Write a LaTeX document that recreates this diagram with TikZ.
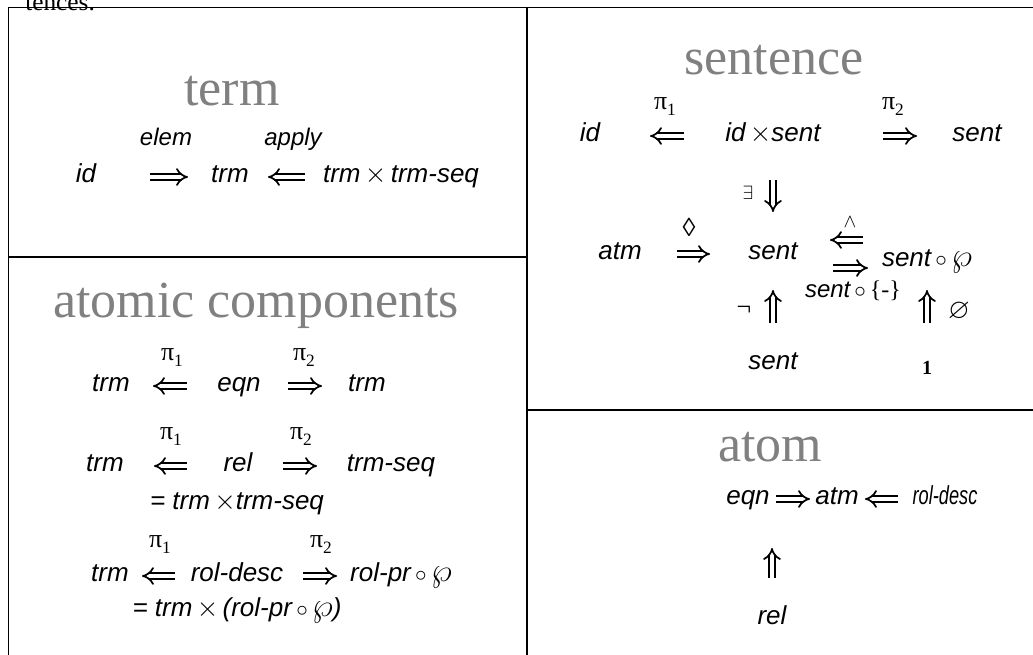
\documentclass[tikz,border=0pt]{standalone}
\usepackage{fontspec}
\usepackage{amssymb}
\setmainfont{Liberation Serif}
\setsansfont{Liberation Sans}
\usetikzlibrary{arrows.meta}

\newcommand{\prj}[1]{π\raisebox{-0.2em}{\fontsize{13}{13}\selectfont #1}}
\newcommand{\cmp}{\,{\fontsize{16}{16}\selectfont$\circ$}\,}
\newcommand{\pow}{{\fontsize{24}{24}\selectfont$\wp$}}

\begin{document}
\begin{tikzpicture}[
        x=0.75pt, y=-0.75pt,
        frame/.style={line width=1.4pt},
        ttl/.style={anchor=base, inner sep=0pt, text=gray, font=\fontsize{39}{39}\selectfont},
        obj/.style={anchor=base, inner sep=0pt, text height=9pt, text depth=0pt, font=\sffamily\itshape\fontsize{19.5}{20}\selectfont},
        lbl/.style={anchor=base, inner sep=0pt, font=\sffamily\itshape\fontsize{18}{18}\selectfont},
        sym/.style={anchor=base, inner sep=0pt, font=\fontsize{19.5}{20}\selectfont},
        imp/.style={double, double distance=3.2pt, line width=1.3pt, -{Implies[scale=1.2]}}
    ]

    \useasboundingbox (0,0) rectangle (1033,655);

    \draw[frame] (1033,7.5) -- (8.5,7.5) -- (8.5,655);
    \draw[frame] (527,7.5) -- (527,655);
    \draw[frame] (8.5,257) -- (527,257);
    \draw[frame] (527,410) -- (1033,410);

    \node[anchor=base west, inner sep=0pt, font=\fontsize{19}{19}\selectfont] (prev) at (25,11) {tences.};

    \node[ttl] (termT) at (232,106) {term};
    \node[lbl] (elem) at (166,146) {elem};
    \node[lbl] (apply) at (293,146) {apply};
    \node[obj] (tid) at (86,183) {id};
    \node[obj] (ttrm) at (230,183) {trm};
    \node[obj] (tprod) at (401,183) {trm\,$\times$\,trm-seq};

    \draw[imp, shorten <=48pt, shorten >=31.5pt] (tid.center) -- (ttrm.center);
    \draw[imp, shorten <=72pt, shorten >=28.5pt] (tprod.center) -- (ttrm.center);

    \node[ttl] (sentT) at (774,75) {sentence};
    \node[sym] (s1) at (665,110) {\prj1};
    \node[sym] (s2) at (893,110) {\prj2};
    \node[obj] (sid) at (590,142) {id};
    \node[obj] (sprod) at (773,142) {id\,$\times$sent};
    \node[obj] (ssent) at (977,142) {sent};
    \node[sym, font=\fontsize{15}{15}\selectfont] (exists) at (748,200) {$\exists$};
    \node[sym] (dia) at (689,237) {◊};
    \node[obj] (satm) at (620,260) {atm};
    \node[obj] (smid) at (773,260) {sent};
    \node[obj] (spow) at (927,267) {sent\cmp\pow};
    \node[sym, font=\fontsize{14}{14}\selectfont] (wedge) at (850,228) {$\wedge$};
    \node[lbl] (ssing) at (853,298) {sent\cmp{\rmfamily\upshape\{-\}}};
    \node[sym] (neg) at (744,316) {¬};
    \node[sym, font=\fontsize{21}{21}\selectfont] (empty) at (959,319) {$\varnothing$};
    \node[obj] (sbot) at (773,370) {sent};
    \node[obj, font=\bfseries\fontsize{15}{15}\selectfont] (one) at (927,375) {1};

    \draw[imp, shorten <=66.75pt, shorten >=45pt] (sprod.center) -- (sid.center);
    \draw[imp, shorten <=82.5pt, shorten >=45pt] (sprod.center) -- (ssent.center);
    \draw[imp, shorten <=33pt, shorten >=31.5pt] (sprod.center) -- (smid.center);
    \draw[imp, shorten <=42.75pt, shorten >=47.25pt] (satm.center) -- (smid.center);
    \draw[imp, shorten <=48pt, shorten >=42.75pt] ([yshift=15.75pt]spow.center) -- ([yshift=10.5pt]smid.center);
    \draw[imp, shorten <=45pt, shorten >=44.25pt] ([yshift=-10.5pt]smid.center) -- ([yshift=-5.25pt]spow.center);
    \draw[imp, shorten <=30.75pt, shorten >=27pt] (sbot.center) -- (smid.center);
    \draw[imp, shorten <=34.5pt, shorten >=21.75pt] (one.center) -- (spow.center);

    \node[ttl] (atcT) at (256,318) {atomic components};
    \node[sym] (c1) at (172,361) {\prj1};
    \node[sym] (c2) at (304,361) {\prj2};
    \node[obj] (ctrm) at (111,392) {trm};
    \node[obj] (ceqn) at (239,392) {eqn};
    \node[obj] (ctrmb) at (367,392) {trm};
    \node[sym] (c3) at (171,440) {\prj1};
    \node[sym] (c4) at (301,440) {\prj2};
    \node[obj] (rtrm) at (105,472) {trm};
    \node[obj] (rrel) at (238,472) {rel};
    \node[obj] (rseq) at (391,472) {trm-seq};
    \node[obj] (rdef) at (237,510) {= trm\,$\times$trm-seq};
    \node[sym] (c5) at (160,548) {\prj1};
    \node[sym] (c6) at (321,548) {\prj2};
    \node[obj] (dtrm) at (110,582) {trm};
    \node[obj] (ddesc) at (237,582) {rol-desc};
    \node[obj] (dpr) at (401,582) {rol-pr\cmp\pow};
    \node[obj] (ddef) at (237,617) {= trm\,$\times$\,(rol-pr\cmp\pow)};

    \draw[imp, shorten <=39pt, shorten >=31.5pt] (ceqn.center) -- (ctrm.center);
    \draw[imp, shorten <=36.75pt, shorten >=33.75pt] (ceqn.center) -- (ctrmb.center);
    \draw[imp, shorten <=38.25pt, shorten >=36.75pt] (rrel.center) -- (rtrm.center);
    \draw[imp, shorten <=33.75pt, shorten >=55.5pt] (rrel.center) -- (rseq.center);
    \draw[imp, shorten <=46.5pt, shorten >=24pt] (ddesc.center) -- (dtrm.center);
    \draw[imp, shorten <=49.5pt, shorten >=48pt] (ddesc.center) -- (dpr.center);

    \node[ttl] (atomT) at (770,462) {atom};
    \node[obj] (aeqn) at (748,505) {eqn};
    \node[obj] (aatm) at (837,505) {atm};
    \node[obj] (adesc) at (945,505) {\scalebox{0.7}[1]{rol-desc}};
    \node[obj] (arel) at (772,625) {rel};

    \draw[imp, shorten <=21pt, shorten >=20.25pt] (aeqn.center) -- (aatm.center);
    \draw[imp, shorten <=35.25pt, shorten >=21pt] (adesc.center) -- (aatm.center);
    \draw[imp, shorten <=30.75pt, shorten >=36.75pt] (arel.center) -- (arel.center |- aatm.center);
    \end{tikzpicture}
\end{document}
